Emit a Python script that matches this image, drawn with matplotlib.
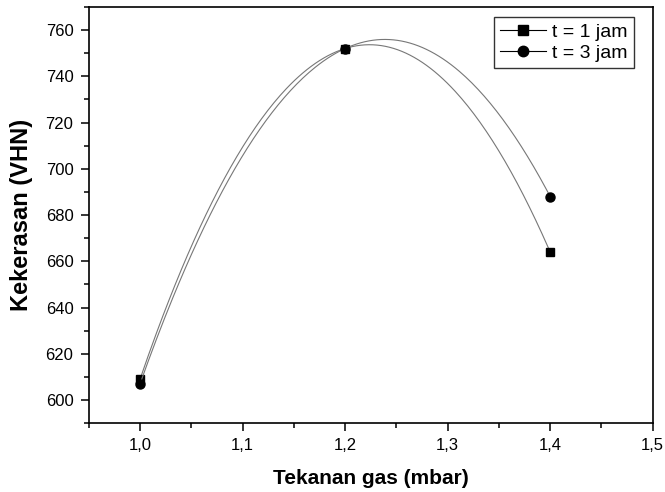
import numpy as np
import matplotlib
matplotlib.use("Agg")
import matplotlib.pyplot as plt
from matplotlib.ticker import MultipleLocator, FuncFormatter

plt.rcParams['font.family'] = ['Liberation Sans', 'DejaVu Sans']

tekanan = [1.0, 1.2, 1.4]
keras_1jam = [609, 752, 664]
keras_3jam = [607, 752, 688]
labels = ['t = 1 jam', 't = 3 jam']

fig = plt.figure(figsize=(6.65, 4.92), dpi=100)
ax = fig.add_axes([0.1335, 0.14, 0.848, 0.846])

xs = np.linspace(tekanan[0], tekanan[-1], 200)
for y, m, ms, lab in [(keras_1jam, 's', 6, labels[0]), (keras_3jam, 'o', 6.5, labels[1])]:
    # smooth connecting curve through the points
    coef = np.polyfit(tekanan, y, 2)
    ax.plot(xs, np.polyval(coef, xs), color='#777777', lw=0.8)
    ax.plot(tekanan, y, m, color='black', ms=ms, ls='none')
    # legend proxy
    ax.plot([], [], color='black', lw=0.8, marker=m, ms=ms + 1, label=lab)

ax.set_xlim(0.95, 1.5)
ax.set_ylim(590, 770)
ax.xaxis.set_major_locator(MultipleLocator(0.1))
ax.xaxis.set_minor_locator(MultipleLocator(0.05))
ax.yaxis.set_major_locator(MultipleLocator(20))
ax.yaxis.set_minor_locator(MultipleLocator(10))
ax.xaxis.set_major_formatter(FuncFormatter(lambda v, p: f"{v:.1f}".replace('.', ',')))
ax.tick_params(which='major', direction='out', length=6, width=1.1, labelsize=12, pad=5)
ax.tick_params(which='minor', direction='out', length=3.5, width=1.1)
for s in ax.spines.values():
    s.set_linewidth(1.2)

ax.set_xlabel('Tekanan gas (mbar)', fontsize=15, fontweight='bold', labelpad=11)
ax.set_ylabel('Kekerasan (VHN)', fontsize=17, fontweight='bold', labelpad=9)

leg = ax.legend(loc='upper right', bbox_to_anchor=(0.966, 0.975), fontsize=14,
                frameon=True, fancybox=False, edgecolor='black', handlelength=2.4,
                borderpad=0.3, labelspacing=0.2, handletextpad=0.3, borderaxespad=0)
leg.get_frame().set_linewidth(1.0)

fig.savefig('out.png', dpi=100)
